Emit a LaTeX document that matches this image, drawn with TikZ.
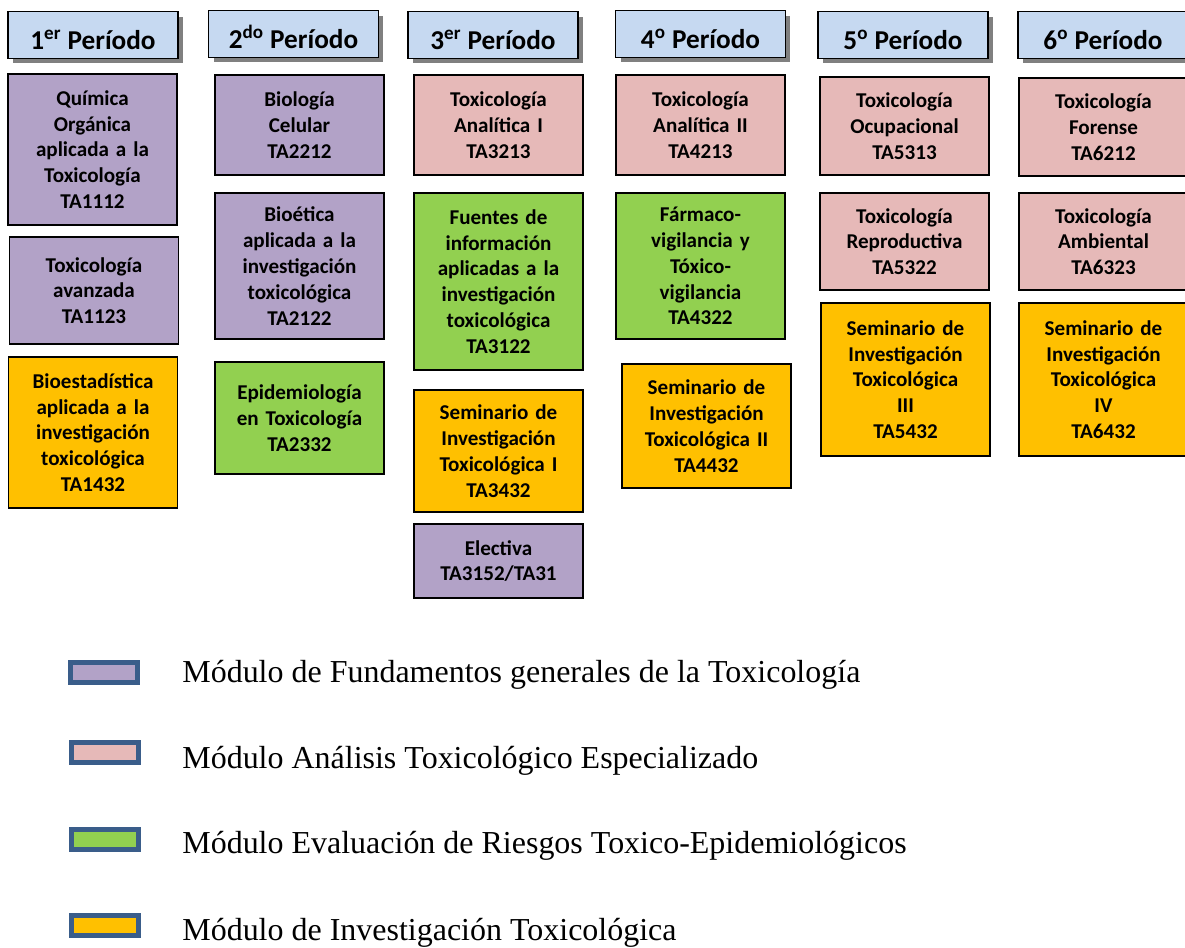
\documentclass[tikz,border=0pt]{standalone}
\usepackage{fontspec}
\setmainfont{Carlito}
\newfontfamily\legendfont{Liberation Serif}
\usetikzlibrary{shadows}
\definecolor{headblue}{HTML}{C6D9F1}
\definecolor{fundpurple}{HTML}{B2A2C7}
\definecolor{anapink}{HTML}{E6B9B8}
\definecolor{riskgreen}{HTML}{92D050}
\definecolor{invorange}{HTML}{FFC000}
\definecolor{legblue}{HTML}{3A5D8A}
\begin{document}
\begin{tikzpicture}[x=0.02cm,y=-0.02cm,
   every node/.style={font=\bfseries\fontsize{12}{14.7}\selectfont},
   period/.style={draw,line width=1pt,fill=headblue,minimum width=3.4cm,minimum height=0.94cm,
      text height=16pt,text depth=0pt,
      font=\bfseries\fontsize{15.5}{18}\selectfont,
      drop shadow={shadow xshift=0.1cm,shadow yshift=-0.1cm,fill=black!50,opacity=1}},
   course/.style={draw,line width=1pt,minimum width=3.38cm,text width=3.1cm,align=center},
   fund/.style={course,fill=fundpurple},
   ana/.style={course,fill=anapink},
   risk/.style={course,fill=riskgreen},
   inv/.style={course,fill=invorange},
   legbox/.style={draw=legblue,line width=0.1cm,minimum width=1.34cm,minimum height=0.4cm},
   legtext/.style={anchor=base west,inner sep=0pt,font=\legendfont\fontsize{18.2}{21}\selectfont}]
   \useasboundingbox (0,0) rectangle (1185,947);
   \node [period] (p1) at (93,35) {1\textsuperscript{er} Período};
   \node [period] (p2) at (293.5,34) {2\textsuperscript{do} Período};
   \node [period] (p3) at (493,35) {3\textsuperscript{er} Período};
   \node [period] (p4) at (700.5,34) {4\textsuperscript{o} Período};
   \node [period] (p5) at (903,35) {5\textsuperscript{o} Período};
   \node [period] (p6) at (1103,35) {6\textsuperscript{o} Período};

   \node [fund,minimum height=3.02cm] (quimica) at (92.5,149.5) {Química\\Orgánica\\aplicada a la\\Toxicología\\TA1112};
   \node [fund,minimum height=2.14cm] (avanzada) at (94,290.5) {Toxicología\\avanzada\\TA1123};
   \node [inv,minimum height=3.02cm] (bioest) at (93,432.5) {Bioestadística\\aplicada a la\\investigación\\toxicológica\\TA1432};

   \node [fund,minimum height=2cm] (biologia) at (299.5,125) {Biología\\Celular\\TA2212};
   \node [fund,minimum height=2.92cm] (bioetica) at (299.5,266) {Bioética\\aplicada a la\\investigación\\toxicológica\\TA2122};
   \node [risk,minimum height=2.24cm] (epidem) at (299.5,418) {Epidemiología\\en Toxicología\\TA2332};

   \node [ana,minimum height=2cm] (analiticaI) at (498.5,125) {Toxicología\\Analítica I\\TA3213};
   \node [risk,minimum height=3.54cm] (fuentes) at (498.5,281.5) {Fuentes de\\información\\aplicadas a la\\investigación\\toxicológica\\TA3122};
   \node [inv,minimum height=2.44cm] (seminI) at (498.5,451) {Seminario de\\Investigación\\Toxicológica I\\TA3432};
   \node [fund,minimum height=1.48cm] (electiva) at (498.5,561) {Electiva\\TA3152/TA31};

   \node [ana,minimum height=2cm] (analiticaII) at (700.5,125) {Toxicología\\Analítica II\\TA4213};
   \node [risk,minimum height=2.92cm] (farmaco) at (700.5,266) {Fármaco-\\vigilancia y\\Tóxico-\\vigilancia\\TA4322};
   \node [inv,minimum height=2.48cm] (seminII) at (706.5,426) {Seminario de\\Investigación\\Toxicológica II\\TA4432};

   \node [ana,minimum height=1.96cm] (ocupacional) at (904.5,126) {Toxicología\\Ocupacional\\TA5313};
   \node [ana,minimum height=1.94cm] (reproductiva) at (904.5,241.5) {Toxicología\\Reproductiva\\TA5322};
   \node [inv,minimum height=3.06cm] (seminIII) at (905.5,379.5) {Seminario de\\Investigación\\Toxicológica\\III\\TA5432};

   \node [ana,minimum height=1.96cm] (forense) at (1103.5,127) {Toxicología\\Forense\\TA6212};
   \node [ana,minimum height=1.94cm] (ambiental) at (1103.5,241.5) {Toxicología\\Ambiental\\TA6323};
   \node [inv,minimum height=3.06cm] (seminIV) at (1103.5,379.5) {Seminario de\\Investigación\\Toxicológica\\IV\\TA6432};

   \node [legbox,fill=fundpurple] (l1) at (104,672.5) {};
   \node [legtext] (t1) at (182,682) {Módulo de Fundamentos generales de la Toxicología};
   \node [legbox,fill=anapink] (l2) at (105,752.5) {};
   \node [legtext] (t2) at (182,768) {Módulo Análisis Toxicológico Especializado};
   \node [legbox,fill=riskgreen] (l3) at (105,839) {};
   \node [legtext] (t3) at (182,853) {Módulo Evaluación de Riesgos Toxico-Epidemiológicos};
   \node [legbox,fill=invorange] (l4) at (105,925.5) {};
   \node [legtext] (t4) at (182,940) {Módulo de Investigación Toxicológica};
\end{tikzpicture}
\end{document}
